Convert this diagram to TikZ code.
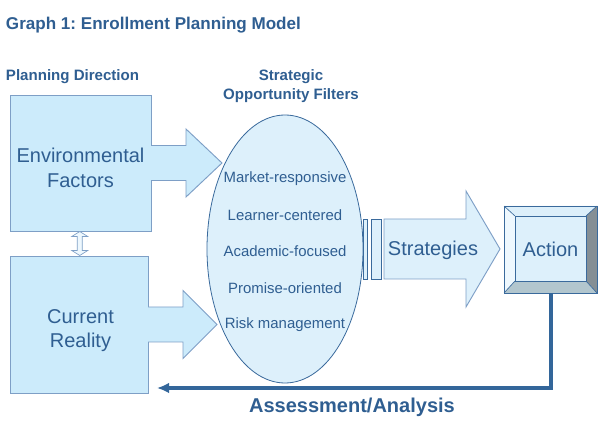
\documentclass[tikz,border=0pt]{standalone}
\usepackage{fontspec}
\setmainfont{Liberation Sans}
\usetikzlibrary{arrows.meta,positioning,calc,shapes.geometric,backgrounds}
\definecolor{ink}{HTML}{2F5E91}
\definecolor{boxbg}{HTML}{CCEBFB}
\definecolor{boxrule}{HTML}{7E9FC6}
\definecolor{palebg}{HTML}{DDF0FB}
\definecolor{edge}{HTML}{3A6A9C}
\definecolor{loopline}{HTML}{33669A}
\definecolor{bevellight}{HTML}{EEF8FE}
\definecolor{bevelrim}{HTML}{DCEFFA}
\definecolor{beveldark}{HTML}{858F95}
\definecolor{bevelmid}{HTML}{B2C6CE}
\frenchspacing

\begin{document}
\begin{tikzpicture}[x=0.75pt,y=-0.75pt,
  every node/.style={text=ink,inner sep=0pt,outer sep=0pt},
  heading/.style={font=\fontsize{11.3}{14.3}\selectfont\bfseries,align=center},
  big/.style={font=\fontsize{15}{18.5}\selectfont,align=center},
  factor/.style={draw=boxrule,fill=boxbg,line width=0.7pt,minimum width=105.75pt},
  filteritem/.style={font=\fontsize{11.2}{13}\selectfont},
  fatline/.style={draw=boxrule,line width=0.7pt},
  bar/.style={draw=edge,fill=palebg,line width=0.6pt,minimum height=45pt},
  feedback/.style={-{Latex[length=9pt,width=8pt]},line width=3pt,draw=loopline}]

\useasboundingbox (0,0) rectangle (601,431);

\node[font=\fontsize{12.8}{15}\selectfont\bfseries,anchor=west] (title) at (6,25)
  {Graph 1: Enrollment Planning Model};
\node[heading,anchor=west] (plan) at (6,77) {Planning Direction};
\node[heading] (sof) at (291,86) {Strategic\\Opportunity Filters};

\node[factor,minimum height=102pt] (env) at (80.5,163) {};
\node[factor,minimum width=103.5pt,minimum height=102.75pt] (cur) at (79,324.5) {};
\node[big] (envtext) at ($(env.center)+(0,5)$) {Environmental\\Factors};
\node[big] (curtext) at ($(cur.center)+(1.5,6)$) {Current\\Reality};

% fat arrows into the filters
\foreach \b/\t in {env/71,cur/69}{
  \begin{scope}[shift={(\b.east)}]
    \fill[boxbg] (-1,-17.5) -- (35,-17.5) -- (35,-34) -- (\t,0) -- (35,34) -- (35,17.5) -- (-1,17.5) -- cycle;
    \draw[fatline] (0,-17.5) -- (35,-17.5) -- (35,-34) -- (\t,0) -- (35,34) -- (35,17.5) -- (0,17.5);
  \end{scope}
}

\coordinate (link) at ($(env.south)!0.5!(cur.north)$);
\begin{scope}[shift={(link)}]
  \filldraw[fill=bevellight,draw=boxrule,line width=0.5pt] (0,-12) -- (8,-7) -- (2.5,-7) -- (2.5,7)
    -- (8,7) -- (0,12) -- (-8,7) -- (-2.5,7) -- (-2.5,-7) -- (-8,-7) -- cycle;
\end{scope}

\node[ellipse,draw=edge,fill=palebg,line width=0.6pt,minimum width=117pt,minimum height=201pt] (filt) at (285,249) {};
\foreach \t [count=\i] in {Market-responsive,Learner-centered,Academic-focused,Promise-oriented,Risk management}
  \node[filteritem] (f\i) at ($(filt.center)+(0,{36.5*\i-107})$) {\t};

\node[bar,minimum width=3pt] (bar1) at (365,249) {};
\node[bar,minimum width=7.5pt,right=3pt of bar1] (bar2) {};

\begin{scope}[shift={(bar2.east)}]
  \filldraw[fill=palebg,fatline] (3,-30) -- (85,-30) -- (85,-58) -- (119,0) -- (85,58) -- (85,30) -- (3,30) -- cycle;
\end{scope}
\node[big] (strat) at ($(bar2.east)+(52,1)$) {Strategies};

\node[big,minimum width=69.75pt,minimum height=65.25pt] (act) at (550.5,249.5) {Action};
\begin{scope}[on background layer]
  \coordinate (inw) at ($(act.north west)+(11,10)$);
  \coordinate (ine) at ($(act.north east)+(-11,10)$);
  \coordinate (ise) at ($(act.south east)+(-11,-12)$);
  \coordinate (isw) at ($(act.south west)+(11,-12)$);
  \fill[bevelrim] (act.north west) -- (act.north east) -- (ine) -- (inw) -- cycle;
  \fill[bevellight] (act.north west) -- (inw) -- (isw) -- (act.south west) -- cycle;
  \fill[beveldark] (act.north east) -- (act.south east) -- (ise) -- (ine) -- cycle;
  \fill[bevelmid] (act.south west) -- (act.south east) -- (ise) -- (isw) -- cycle;
  \filldraw[fill=palebg,draw=edge,line width=0.6pt] (inw) rectangle (ise);
  \draw[edge,line width=0.6pt] (act.north west) rectangle (act.south east);
  \draw[edge,line width=0.5pt] (act.north west) -- (inw) (act.north east) -- (ine)
    (act.south east) -- (ise) (act.south west) -- (isw);
\end{scope}

\coordinate (back) at ($(cur.south east)+(9,-5)$);
\draw[feedback] (act.south) |- (back);
\node[font=\fontsize{15}{18}\selectfont\bfseries] (assess) at (352,407) {Assessment/Analysis};
\end{tikzpicture}
\end{document}
